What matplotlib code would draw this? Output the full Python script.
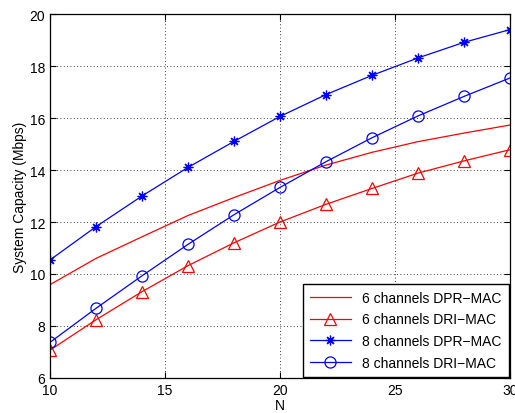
import matplotlib
matplotlib.use("Agg")
import matplotlib.pyplot as plt

plt.rcParams["font.family"] = ["Liberation Sans", "DejaVu Sans"]

N = [10, 12, 14, 16, 18, 20, 22, 24, 26, 28, 30]
dpr_6ch = [9.59, 10.6, 11.43, 12.25, 12.94, 13.6, 14.19, 14.68, 15.09, 15.42, 15.73]
dri_6ch = [7.07, 8.24, 9.32, 10.32, 11.2, 12.0, 12.68, 13.29, 13.88, 14.35, 14.78]
dpr_8ch = [10.54, 11.82, 13.0, 14.1, 15.1, 16.06, 16.9, 17.64, 18.31, 18.91, 19.4]
dri_8ch = [7.37, 8.68, 9.93, 11.14, 12.28, 13.33, 14.32, 15.24, 16.08, 16.83, 17.54]

labels = ["6 channels DPR\u2212MAC", "6 channels DRI\u2212MAC",
          "8 channels DPR\u2212MAC", "8 channels DRI\u2212MAC"]

fig = plt.figure(figsize=(5.15, 4.14), dpi=100)
ax = fig.add_axes([50 / 515, 35 / 414, 460 / 515, 364 / 414])

lw = 0.9
ax.plot(N, dpr_6ch, color="red", lw=lw, label=labels[0])
ax.plot(N, dri_6ch, color="red", lw=lw, marker="^", ms=8, mfc="none",
        mew=0.9, label=labels[1])
ax.plot(N, dpr_8ch, color="blue", lw=lw, marker=(8, 2, 0), ms=7,
        mew=0.9, label=labels[2])
ax.plot(N, dri_8ch, color="blue", lw=lw, marker="o", ms=8, mfc="none",
        mew=0.9, label=labels[3])

ax.set_xlim(10, 30)
ax.set_ylim(6, 20)
ax.set_xticks([10, 15, 20, 25, 30])
ax.set_yticks([6, 8, 10, 12, 14, 16, 18, 20])
ax.grid(True, color="black", linestyle=(0, (1, 3)), linewidth=0.6)
ax.tick_params(direction="in", top=True, right=True, labelsize=10, length=4)
for s in ax.spines.values():
    s.set_linewidth(0.9)

ax.set_xlabel("N", fontsize=10, labelpad=1)
ax.set_ylabel("System Capacity (Mbps)", fontsize=10, labelpad=2)

leg = ax.legend(loc="lower right", fontsize=10, fancybox=False, framealpha=1,
                edgecolor="black", borderaxespad=0.1, handlelength=3.0,
                labelspacing=0.55, borderpad=0.5)
leg.get_frame().set_linewidth(1.0)

fig.savefig("out.png", dpi=100)
